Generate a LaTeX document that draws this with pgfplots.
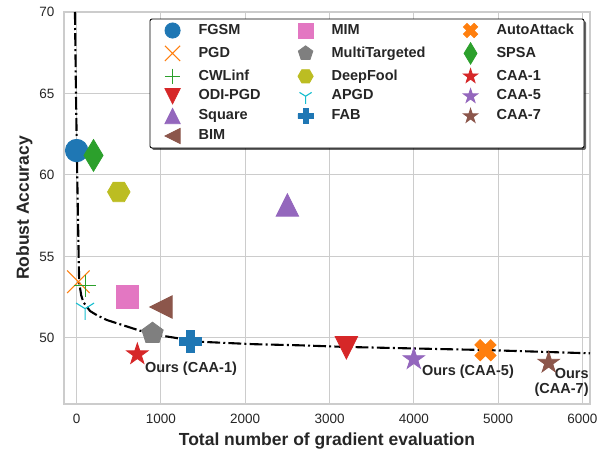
\documentclass[border=0pt]{standalone}
\usepackage{pgfplots}
\pgfplotsset{compat=1.18}
\usepackage{fontspec}
\setmainfont{Liberation Sans}
\usetikzlibrary{shadows}

\definecolor{tblue}{HTML}{1F77B4}
\definecolor{torange}{HTML}{FF7F0E}
\definecolor{tgreen}{HTML}{2CA02C}
\definecolor{tred}{HTML}{D62728}
\definecolor{tpurple}{HTML}{9467BD}
\definecolor{tbrown}{HTML}{8C564B}
\definecolor{tpink}{HTML}{E377C2}
\definecolor{tgray}{HTML}{7F7F7F}
\definecolor{tolive}{HTML}{BCBD22}
\definecolor{tcyan}{HTML}{17BECF}
\definecolor{gridc}{HTML}{CCCCCC}
\definecolor{txt}{HTML}{262626}

% matplotlib-like markers, size = half the marker size
\pgfdeclareplotmark{mstar}{%
  \pgfpathmoveto{\pgfpointpolar{90}{\pgfplotmarksize}}%
  \pgfpathlineto{\pgfpointpolar{126}{0.382*\pgfplotmarksize}}%
  \pgfpathlineto{\pgfpointpolar{162}{\pgfplotmarksize}}%
  \pgfpathlineto{\pgfpointpolar{198}{0.382*\pgfplotmarksize}}%
  \pgfpathlineto{\pgfpointpolar{234}{\pgfplotmarksize}}%
  \pgfpathlineto{\pgfpointpolar{270}{0.382*\pgfplotmarksize}}%
  \pgfpathlineto{\pgfpointpolar{306}{\pgfplotmarksize}}%
  \pgfpathlineto{\pgfpointpolar{342}{0.382*\pgfplotmarksize}}%
  \pgfpathlineto{\pgfpointpolar{18}{\pgfplotmarksize}}%
  \pgfpathlineto{\pgfpointpolar{54}{0.382*\pgfplotmarksize}}%
  \pgfpathclose\pgfusepathqfillstroke}
\pgfdeclareplotmark{mpent}{%
  \pgfpathmoveto{\pgfpointpolar{90}{\pgfplotmarksize}}%
  \pgfpathlineto{\pgfpointpolar{162}{\pgfplotmarksize}}%
  \pgfpathlineto{\pgfpointpolar{234}{\pgfplotmarksize}}%
  \pgfpathlineto{\pgfpointpolar{306}{\pgfplotmarksize}}%
  \pgfpathlineto{\pgfpointpolar{18}{\pgfplotmarksize}}%
  \pgfpathclose\pgfusepathqfillstroke}
\pgfdeclareplotmark{mhex}{%
  \pgfpathmoveto{\pgfpointpolar{0}{\pgfplotmarksize}}%
  \pgfpathlineto{\pgfpointpolar{60}{\pgfplotmarksize}}%
  \pgfpathlineto{\pgfpointpolar{120}{\pgfplotmarksize}}%
  \pgfpathlineto{\pgfpointpolar{180}{\pgfplotmarksize}}%
  \pgfpathlineto{\pgfpointpolar{240}{\pgfplotmarksize}}%
  \pgfpathlineto{\pgfpointpolar{300}{\pgfplotmarksize}}%
  \pgfpathclose\pgfusepathqfillstroke}
\pgfdeclareplotmark{mtriup}{%
  \pgfpathmoveto{\pgfpoint{0pt}{\pgfplotmarksize}}%
  \pgfpathlineto{\pgfpoint{-\pgfplotmarksize}{-\pgfplotmarksize}}%
  \pgfpathlineto{\pgfpoint{\pgfplotmarksize}{-\pgfplotmarksize}}%
  \pgfpathclose\pgfusepathqfillstroke}
\pgfdeclareplotmark{mtridown}{%
  \pgfpathmoveto{\pgfpoint{0pt}{-\pgfplotmarksize}}%
  \pgfpathlineto{\pgfpoint{-\pgfplotmarksize}{\pgfplotmarksize}}%
  \pgfpathlineto{\pgfpoint{\pgfplotmarksize}{\pgfplotmarksize}}%
  \pgfpathclose\pgfusepathqfillstroke}
\pgfdeclareplotmark{mtrileft}{%
  \pgfpathmoveto{\pgfpoint{-\pgfplotmarksize}{0pt}}%
  \pgfpathlineto{\pgfpoint{\pgfplotmarksize}{\pgfplotmarksize}}%
  \pgfpathlineto{\pgfpoint{\pgfplotmarksize}{-\pgfplotmarksize}}%
  \pgfpathclose\pgfusepathqfillstroke}
\pgfdeclareplotmark{mthind}{%
  \pgfpathmoveto{\pgfpoint{0pt}{1.414*\pgfplotmarksize}}%
  \pgfpathlineto{\pgfpoint{0.849*\pgfplotmarksize}{0pt}}%
  \pgfpathlineto{\pgfpoint{0pt}{-1.414*\pgfplotmarksize}}%
  \pgfpathlineto{\pgfpoint{-0.849*\pgfplotmarksize}{0pt}}%
  \pgfpathclose\pgfusepathqfillstroke}
\pgfdeclareplotmark{mplusf}{%
  \pgfpathmoveto{\pgfpoint{-0.333*\pgfplotmarksize}{-\pgfplotmarksize}}%
  \pgfpathlineto{\pgfpoint{0.333*\pgfplotmarksize}{-\pgfplotmarksize}}%
  \pgfpathlineto{\pgfpoint{0.333*\pgfplotmarksize}{-0.333*\pgfplotmarksize}}%
  \pgfpathlineto{\pgfpoint{\pgfplotmarksize}{-0.333*\pgfplotmarksize}}%
  \pgfpathlineto{\pgfpoint{\pgfplotmarksize}{0.333*\pgfplotmarksize}}%
  \pgfpathlineto{\pgfpoint{0.333*\pgfplotmarksize}{0.333*\pgfplotmarksize}}%
  \pgfpathlineto{\pgfpoint{0.333*\pgfplotmarksize}{\pgfplotmarksize}}%
  \pgfpathlineto{\pgfpoint{-0.333*\pgfplotmarksize}{\pgfplotmarksize}}%
  \pgfpathlineto{\pgfpoint{-0.333*\pgfplotmarksize}{0.333*\pgfplotmarksize}}%
  \pgfpathlineto{\pgfpoint{-\pgfplotmarksize}{0.333*\pgfplotmarksize}}%
  \pgfpathlineto{\pgfpoint{-\pgfplotmarksize}{-0.333*\pgfplotmarksize}}%
  \pgfpathlineto{\pgfpoint{-0.333*\pgfplotmarksize}{-0.333*\pgfplotmarksize}}%
  \pgfpathclose\pgfusepathqfillstroke}
\pgfdeclareplotmark{mxf}{%
  \pgfpathmoveto{\pgfpoint{0.471*\pgfplotmarksize}{-0.943*\pgfplotmarksize}}%
  \pgfpathlineto{\pgfpoint{0.943*\pgfplotmarksize}{-0.471*\pgfplotmarksize}}%
  \pgfpathlineto{\pgfpoint{0.471*\pgfplotmarksize}{0pt}}%
  \pgfpathlineto{\pgfpoint{0.943*\pgfplotmarksize}{0.471*\pgfplotmarksize}}%
  \pgfpathlineto{\pgfpoint{0.471*\pgfplotmarksize}{0.943*\pgfplotmarksize}}%
  \pgfpathlineto{\pgfpoint{0pt}{0.471*\pgfplotmarksize}}%
  \pgfpathlineto{\pgfpoint{-0.471*\pgfplotmarksize}{0.943*\pgfplotmarksize}}%
  \pgfpathlineto{\pgfpoint{-0.943*\pgfplotmarksize}{0.471*\pgfplotmarksize}}%
  \pgfpathlineto{\pgfpoint{-0.471*\pgfplotmarksize}{0pt}}%
  \pgfpathlineto{\pgfpoint{-0.943*\pgfplotmarksize}{-0.471*\pgfplotmarksize}}%
  \pgfpathlineto{\pgfpoint{-0.471*\pgfplotmarksize}{-0.943*\pgfplotmarksize}}%
  \pgfpathlineto{\pgfpoint{0pt}{-0.471*\pgfplotmarksize}}%
  \pgfpathclose\pgfusepathqfillstroke}
\pgfdeclareplotmark{mx}{%
  \pgfpathmoveto{\pgfpoint{-\pgfplotmarksize}{-\pgfplotmarksize}}%
  \pgfpathlineto{\pgfpoint{\pgfplotmarksize}{\pgfplotmarksize}}%
  \pgfpathmoveto{\pgfpoint{-\pgfplotmarksize}{\pgfplotmarksize}}%
  \pgfpathlineto{\pgfpoint{\pgfplotmarksize}{-\pgfplotmarksize}}%
  \pgfusepathqstroke}
\pgfdeclareplotmark{mplus}{%
  \pgfpathmoveto{\pgfpoint{-\pgfplotmarksize}{0pt}}%
  \pgfpathlineto{\pgfpoint{\pgfplotmarksize}{0pt}}%
  \pgfpathmoveto{\pgfpoint{0pt}{\pgfplotmarksize}}%
  \pgfpathlineto{\pgfpoint{0pt}{-\pgfplotmarksize}}%
  \pgfusepathqstroke}
\pgfdeclareplotmark{mtri1}{%
  \pgfpathmoveto{\pgfpoint{0pt}{0pt}}%
  \pgfpathlineto{\pgfpoint{0pt}{-\pgfplotmarksize}}%
  \pgfpathmoveto{\pgfpoint{0pt}{0pt}}%
  \pgfpathlineto{\pgfpoint{0.8*\pgfplotmarksize}{0.5*\pgfplotmarksize}}%
  \pgfpathmoveto{\pgfpoint{0pt}{0pt}}%
  \pgfpathlineto{\pgfpoint{-0.8*\pgfplotmarksize}{0.5*\pgfplotmarksize}}%
  \pgfusepathqstroke}

\begin{document}
\begin{tikzpicture}
\begin{axis}[
    width=526pt, height=392pt, scale only axis,
    xmin=-150, xmax=6090,
    ymin=45.95, ymax=70,
    xtick={0,1000,2000,3000,4000,5000,6000},
    ytick={50,55,60,65,70},
    scaled x ticks=false,
    /pgf/number format/1000 sep={},
    /pgf/number format/assume math mode=true,
    major tick length=0pt,
    grid=major,
    grid style={color=gridc, line width=1pt},
    axis line style={color=gridc, line width=1.25pt},
    tick label style={font=\fontsize{13.5}{16}\selectfont, color=txt},
    xticklabel style={yshift=-6.5pt},
    yticklabel style={xshift=-6pt},
    xlabel={Total number of gradient evaluation},
    ylabel={Robust Accuracy},
    label style={font=\fontsize{17.5}{20}\selectfont\bfseries, color=txt, inner sep=0pt},
    xlabel style={at={(axis description cs:0.5,0)}, anchor=base, yshift=-41.5pt},
    ylabel style={at={(axis description cs:0,0.5)}, anchor=base, yshift=35pt},
    mark size=11.25pt,
    every legend image post/.style={mark size=7.6pt},
    legend columns=3,
    legend cell align=left,
    legend image code/.code={%
        \path[draw=none, fill=none] (0pt,-7pt) rectangle (28pt,7pt);
        \draw[sharp corners, mark repeat=2, mark phase=2, #1]
            plot coordinates {(0pt,0pt) (14pt,0pt) (28pt,0pt)};},
    legend style={
        at={(0.985,0.982)}, anchor=north east,
        draw=none, fill=none,
        font=\fontsize{14.5}{17}\selectfont\bfseries, text=txt,
        inner xsep=6pt, inner ysep=3.5pt,
        row sep=4.4pt,
        nodes={text height=10.5pt, text depth=3pt, inner ysep=1pt, inner xsep=2pt},
        /tikz/every odd column/.append style={column sep=10pt},
        /tikz/every even column/.append style={column sep=29pt},
    },
]
% legend frame with shadow
\draw[black, line width=0.9pt, rounded corners=2pt, fill=white,
      drop shadow={shadow xshift=2pt, shadow yshift=-2pt, fill=black, opacity=0.6}]
    (rel axis cs:0.1635,0.6531) rectangle (rel axis cs:0.9886,0.9821);

% legend rows: FGSM MIM AutoAttack / PGD MultiTargeted SPSA / ...
\addplot[only marks, color=tblue, mark=*, line width=0.8pt] coordinates {(0,61.5)};
\addlegendentry{FGSM}
% fitted frontier
\addplot[forget plot, black, line width=2.1pt, dash pattern=on 12.8pt off 3.2pt on 2pt off 3.2pt]
coordinates {
(-20,70) (-8,65) (7,60) (24,55) (30,53.4) (55,52.6) (80,52.2) (160,51.65)
(240,51.4) (360,51.1) (480,50.9) (750,50.45) (1000,50.15) (1460,49.77)
(2100,49.62) (2650,49.55) (3200,49.45) (4850,49.26) (6090,49.06)
};
\addplot[only marks, color=tpink, mark=square*, line width=0.8pt] coordinates {(600,52.53)};
\addlegendentry{MIM}
\addplot[only marks, color=torange, mark=mxf, line width=0.8pt] coordinates {(4850,49.25)};
\addlegendentry{AutoAttack}
\addplot[only marks, color=torange, mark=mx, line width=1.1pt] coordinates {(20,53.45)};
\addlegendentry{PGD}
\addplot[only marks, color=tgray, mark=mpent, line width=0.8pt] coordinates {(900,50.28)};
\addlegendentry{MultiTargeted}
\addplot[only marks, color=tgreen, mark=mthind, line width=0.8pt] coordinates {(200,61.2)};
\addlegendentry{SPSA}
\addplot[only marks, color=tgreen, mark=mplus, line width=1.1pt] coordinates {(100,53.2)};
\addlegendentry{CWLinf}
\addplot[only marks, color=tolive, mark=mhex, line width=0.8pt] coordinates {(500,58.96)};
\addlegendentry{DeepFool}
\addplot[only marks, color=tred, mark=mstar, line width=0.8pt] coordinates {(720,49.0)};
\addlegendentry{CAA-1}
\addplot[only marks, color=tred, mark=mtridown, line width=0.8pt] coordinates {(3200,49.4)};
\addlegendentry{ODI-PGD}
\addplot[only marks, color=tcyan, mark=mtri1, line width=1.1pt] coordinates {(100,51.8)};
\addlegendentry{APGD}
\addplot[only marks, color=tpurple, mark=mstar, line width=0.8pt] coordinates {(4000,48.7)};
\addlegendentry{CAA-5}
\addplot[only marks, color=tpurple, mark=mtriup, line width=0.8pt] coordinates {(2500,58.16)};
\addlegendentry{Square}
\addplot[only marks, color=tblue, mark=mplusf, line width=0.8pt] coordinates {(1350,49.78)};
\addlegendentry{FAB}
\addplot[only marks, color=tbrown, mark=mstar, line width=0.8pt] coordinates {(5600,48.48)};
\addlegendentry{CAA-7}
\addplot[only marks, color=tbrown, mark=mtrileft, line width=0.8pt] coordinates {(1000,51.9)};
\addlegendentry{BIM}

\node[anchor=west, inner sep=0pt, font=\fontsize{14.5}{16}\selectfont\bfseries, text=txt]
    at (axis cs:810,48.13) {Ours (CAA-1)};
\node[anchor=west, inner sep=0pt, font=\fontsize{14.5}{16}\selectfont\bfseries, text=txt]
    at (axis cs:4095,47.93) {Ours (CAA-5)};
\node[anchor=north east, inner sep=0pt, align=right, font=\fontsize{14.5}{15.5}\selectfont\bfseries, text=txt]
    at (axis cs:6076,48.17) {Ours\\(CAA-7)};
\end{axis}
\pgfresetboundingbox
\path[use as bounding box] ([xshift=-64pt,yshift=-46pt]current axis.south west) rectangle ([xshift=14pt,yshift=12pt]current axis.north east);
\end{tikzpicture}
\end{document}
